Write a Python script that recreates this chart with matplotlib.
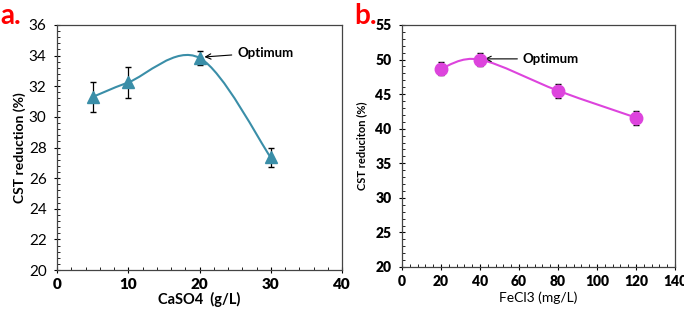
import numpy as np
import matplotlib.pyplot as plt
from matplotlib.path import Path
from matplotlib.patches import PathPatch
from matplotlib.ticker import MultipleLocator

plt.rcParams['font.family'] = ['Lato', 'DejaVu Sans']

# panel a: CaSO4 dose vs CST reduction
caso4_dose = [5, 10, 20, 30]
caso4_cst = [31.3, 32.25, 33.85, 27.35]
caso4_err = [1.0, 1.0, 0.45, 0.6]
xticks_a = [0, 10, 20, 30, 40]

# panel b: FeCl3 dose vs CST reduction
fecl3_dose = [20, 40, 80, 120]
fecl3_cst = [48.7, 50.0, 45.5, 41.6]
fecl3_err = [1.0, 1.0, 1.0, 1.0]
xticks_b = [0, 20, 40, 60, 80, 100, 120, 140]
yticks_b = [20, 25, 30, 35, 40, 45, 50, 55]


def smooth_path(xs, ys):
    # Excel-like smoothed line: cubic bezier segments via matplotlib Path
    pts = np.column_stack([xs, ys]).astype(float)
    n = len(pts)
    verts = [pts[0]]
    codes = [Path.MOVETO]
    for i in range(n - 1):
        p0 = pts[i - 1] if i > 0 else pts[i]
        p1 = pts[i]
        p2 = pts[i + 1]
        p3 = pts[i + 2] if i + 2 < n else pts[i + 1]
        c1 = p1 + (p2 - p0) / 6
        c2 = p2 - (p3 - p1) / 6
        verts += [c1, c2, p2]
        codes += [Path.CURVE4] * 3
    return Path(verts, codes)


fig = plt.figure(figsize=(6.84, 3.09), dpi=100)
ax1 = fig.add_axes([57 / 684, 1 - 270 / 309, 285 / 684, 245 / 309])
ax2 = fig.add_axes([402 / 684, 1 - 267 / 309, 273 / 684, 242 / 309])

teal = '#3a8ea8'
magenta = '#dd44dd'

ax1.add_patch(PathPatch(smooth_path(caso4_dose, caso4_cst), fill=False,
                        edgecolor=teal, lw=1.5, zorder=2))
ax1.errorbar(caso4_dose, caso4_cst, yerr=caso4_err, fmt='^', color=teal,
             ms=9, ecolor='black', elinewidth=0.9, capsize=2.5, zorder=3)
ax1.set_xlim(0, 40)
ax1.set_ylim(20, 36)
ax1.set_xticks(xticks_a)
ax1.set_xticklabels([str(v) for v in xticks_a], fontweight='heavy')
ax1.xaxis.set_minor_locator(MultipleLocator(2))
ax1.yaxis.set_major_locator(MultipleLocator(2))
ax1.yaxis.set_minor_locator(MultipleLocator(0.4))
ax1.tick_params(axis='both', labelsize=11)
ax1.tick_params(axis='y', pad=5)
ax1.tick_params(axis='x', pad=3)
ax1.set_xlabel('CaSO4  (g/L)', fontsize=10.5, fontweight='bold', labelpad=1)
ax1.set_ylabel('CST reduction (%)', fontsize=10, fontweight='bold', labelpad=2)
ax1.annotate('Optimum', xy=(20.3, 33.9), xytext=(25.3, 34.2),
             fontsize=9.5, fontweight='bold', va='center',
             arrowprops=dict(arrowstyle='->', color='black', lw=0.8))

ax2.add_patch(PathPatch(smooth_path(fecl3_dose, fecl3_cst), fill=False,
                        edgecolor=magenta, lw=1.5, zorder=2))
ax2.errorbar(fecl3_dose, fecl3_cst, yerr=fecl3_err, fmt='o', color=magenta,
             ms=9, ecolor='black', elinewidth=0.9, capsize=2.5, zorder=3)
ax2.set_xlim(0, 140)
ax2.set_ylim(20, 55)
ax2.set_xticks(xticks_b)
ax2.set_xticklabels([str(v) for v in xticks_b], fontweight='heavy')
ax2.set_yticks(yticks_b)
ax2.set_yticklabels([str(v) for v in yticks_b], fontweight='heavy')
ax2.xaxis.set_minor_locator(MultipleLocator(4))
ax2.yaxis.set_minor_locator(MultipleLocator(1))
ax2.tick_params(axis='both', labelsize=10)
ax2.tick_params(axis='y', pad=5)
ax2.tick_params(axis='x', pad=3)
ax2.set_xlabel('FeCl3 (mg/L)', fontsize=10, labelpad=3)
ax2.set_ylabel('CST reduciton (%)', fontsize=8, fontweight='bold', labelpad=6)
ax2.annotate('Optimum', xy=(41, 50.1), xytext=(62, 50.1),
             fontsize=9.5, fontweight='bold', va='center',
             arrowprops=dict(arrowstyle='->', color='black', lw=0.8))

# panel letters
fig.text(0 / 684, 1 - 3 / 309, 'a.', color='red', fontsize=20,
         fontweight='bold', va='top', ha='left')
fig.text(354 / 684, 1 - 3 / 309, 'b.', color='red', fontsize=20,
         fontweight='bold', va='top', ha='left')

for ax in (ax1, ax2):
    for sp in ax.spines.values():
        sp.set_color('#444444')
        sp.set_linewidth(0.9)
    ax.tick_params(which='major', direction='inout', length=5, width=0.8)
    ax.tick_params(which='minor', direction='in', length=2.5, width=0.6)

fig.savefig('out.png', dpi=100)
